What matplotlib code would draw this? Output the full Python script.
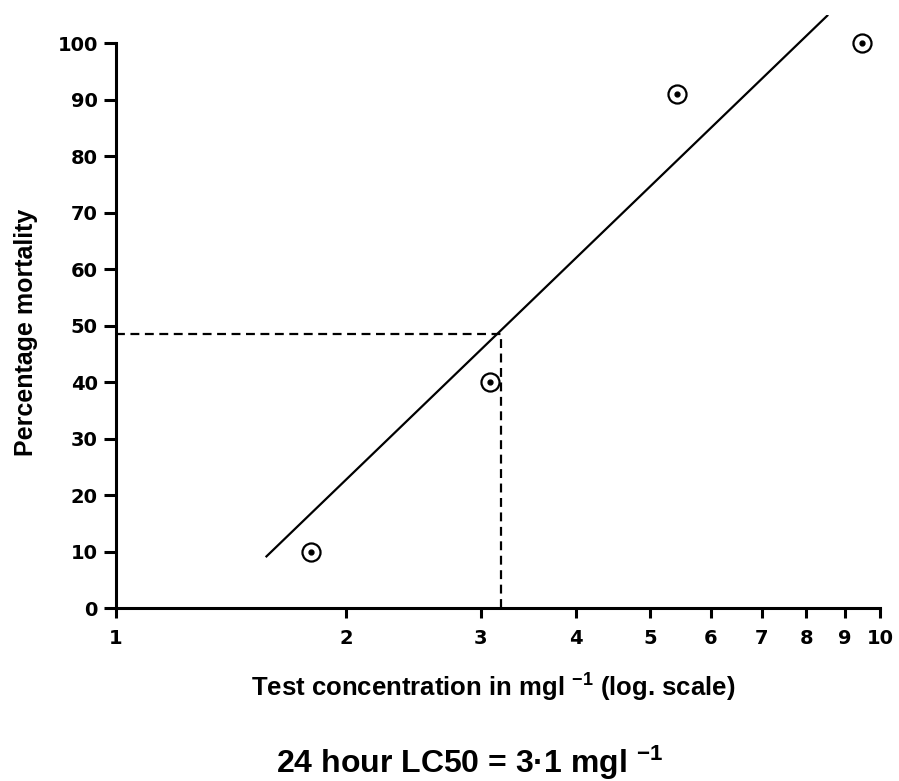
import matplotlib
matplotlib.use("Agg")
import matplotlib.pyplot as plt
from matplotlib.ticker import FixedLocator, NullLocator

plt.rcParams['font.family'] = ['DejaVu Sans']
plt.rcParams['font.weight'] = 'bold'
plt.rcParams['axes.labelweight'] = 'bold'
plt.rcParams['mathtext.fontset'] = 'custom'
plt.rcParams['mathtext.rm'] = 'Liberation Sans:bold'
plt.rcParams['mathtext.bf'] = 'Liberation Sans:bold'
plt.rcParams['mathtext.default'] = 'bf'

# observed mortality
conc = [1.80, 3.09, 5.42, 9.47]
mortality = [10, 40, 91, 100]

# fitted line end points
fit_x = [1.57, 8.55]
fit_y = [9, 105]

# LC50 read-off
lc50_x = 3.19
lc50_y = 48.5

x_ticks = [1, 2, 3, 4, 5, 6, 7, 8, 9, 10]
y_ticks = [0, 10, 20, 30, 40, 50, 60, 70, 80, 90, 100]

lab_font = ['Liberation Sans', 'DejaVu Sans']

fig = plt.figure(figsize=(8.99, 7.81), dpi=100)
ax = fig.add_axes([0.129, 0.2215, 0.850, 0.7595])

ax.plot(fit_x, fit_y, color='black', lw=1.6, solid_capstyle='butt')
ax.plot([1, lc50_x], [lc50_y, lc50_y], color='black', lw=1.6, ls=(0, (4, 2.5)))
ax.plot([lc50_x, lc50_x], [0, lc50_y], color='black', lw=1.6, ls=(0, (4, 2.5)))

ax.plot(conc, mortality, ls='none', marker='o', ms=13, mfc='white',
        mec='black', mew=1.6, clip_on=False)
ax.plot(conc, mortality, ls='none', marker='o', ms=3.5, color='black',
        clip_on=False)

ax.set_xscale('log')
ax.set_xlim(1, 10)
ax.set_ylim(0, 105)
ax.xaxis.set_major_locator(FixedLocator(x_ticks))
ax.xaxis.set_minor_locator(NullLocator())
ax.set_xticklabels([str(t) for t in x_ticks])
ax.set_yticks(y_ticks)

for s in ['top', 'right']:
    ax.spines[s].set_visible(False)
ax.spines['left'].set_bounds(0, 100)
ax.spines['left'].set_linewidth(2.2)
ax.spines['bottom'].set_linewidth(2.2)
ax.tick_params(axis='y', length=9, width=2.2, labelsize=14, pad=4,
               labelfontfamily='DejaVu Sans')
ax.tick_params(axis='x', length=7, width=2.2, labelsize=14, pad=8,
               labelfontfamily='DejaVu Sans')
for t in ax.get_xticklabels() + ax.get_yticklabels():
    t.set_fontweight('bold')

ax.set_ylabel('Percentage mortality', fontsize=18, family=lab_font)
ax.yaxis.set_label_coords(-0.102, 0.465)
ax.set_xlabel('Test concentration in mgl $^{-1}$ (log. scale)', fontsize=18.5,
              family=lab_font)
ax.xaxis.set_label_coords(0.493, -0.108)

fig.text(0.522, 0.023, '24 hour LC50 = 3·1 mgl $^{-1}$', ha='center',
         va='center', fontsize=23, family=lab_font, fontweight='bold')

fig.savefig('out.png', dpi=100)
